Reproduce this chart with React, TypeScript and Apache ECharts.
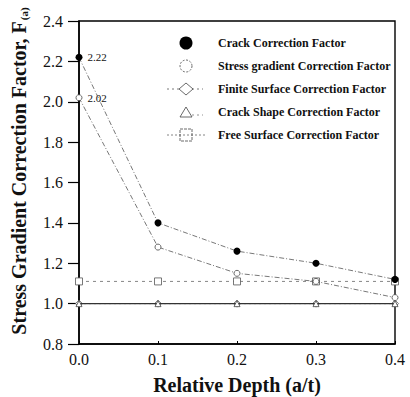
import React, { useEffect, useRef } from "react";
import * as echarts from "echarts";

const depths = [0.0, 0.1, 0.2, 0.3, 0.4];
const crackFactor = [2.22, 1.4, 1.26, 1.2, 1.12];
const stressGradientFactor = [2.02, 1.28, 1.15, 1.11, 1.03];
const finiteSurfaceFactor = [1.0, 1.0, 1.0, 1.0, 1.0];
const crackShapeFactor = [1.0, 1.0, 1.0, 1.0, 1.0];
const freeSurfaceFactor = [1.11, 1.11, 1.11, 1.11, 1.11];

const legendNames = [
  "Crack Correction Factor",
  "Stress gradient Correction Factor",
  "Finite Surface Correction Factor",
  "Crack Shape Correction Factor",
  "Free Surface Correction Factor",
];

const SERIF = "'Liberation Serif', 'Times New Roman', serif";

function pairs(values: number[], labelFirst = false) {
  return values.map((v, i) => {
    const item: any = { value: [depths[i], v] };
    if (labelFirst && i === 0) {
      item.label = {
        show: true,
        position: "right",
        distance: 5,
        formatter: () => v.toFixed(2),
        fontFamily: SERIF,
        fontSize: 11,
        color: "#111",
      };
    }
    return item;
  });
}

export default function App() {
  const ref = useRef<HTMLDivElement>(null);

  useEffect(() => {
    document.body.style.margin = "0";
    if (!ref.current) return;
    const chart = echarts.init(ref.current, undefined, { renderer: "svg" });

    const lx = 186;
    const rowY = [43, 66, 89, 112, 135];
    const tx = 218;

    const legendGraphics: any[] = [
      { type: "circle", shape: { cx: lx, cy: rowY[0], r: 6.5 }, style: { fill: "#000" } },
      {
        type: "circle",
        shape: { cx: lx, cy: rowY[1], r: 6 },
        style: { fill: "none", stroke: "#444", lineWidth: 0.8, lineDash: [2, 1.5] },
      },
      {
        type: "line",
        shape: { x1: 167, y1: rowY[2], x2: 203, y2: rowY[2] },
        style: { stroke: "#555", lineWidth: 0.8, lineDash: [2, 3] },
      },
      {
        type: "polygon",
        shape: { points: [[lx - 7, rowY[2]], [lx, rowY[2] - 6], [lx + 7, rowY[2]], [lx, rowY[2] + 6]] },
        style: { fill: "#fff", stroke: "#444", lineWidth: 0.8 },
      },
      {
        type: "line",
        shape: { x1: lx + 6, y1: rowY[3] + 3, x2: 203, y2: rowY[3] + 3 },
        style: { stroke: "#777", lineWidth: 0.8, lineDash: [2, 3] },
      },
      {
        type: "polygon",
        shape: { points: [[lx - 6, rowY[3] + 5], [lx, rowY[3] - 5], [lx + 6, rowY[3] + 5]] },
        style: { fill: "none", stroke: "#444", lineWidth: 0.8 },
      },
      {
        type: "line",
        shape: { x1: 167, y1: rowY[4], x2: 205, y2: rowY[4] },
        style: { stroke: "#666", lineWidth: 0.8, lineDash: [2, 2] },
      },
      {
        type: "rect",
        shape: { x: lx - 6, y: rowY[4] - 6, width: 12, height: 12 },
        style: { fill: "none", stroke: "#444", lineWidth: 0.8, lineDash: [3, 1] },
      },
      ...legendNames.map((name, i) => ({
        type: "text",
        x: tx,
        y: rowY[i],
        style: {
          text: name,
          fontFamily: SERIF,
          fontSize: 12,
          fontWeight: "bold",
          fill: "#111",
          verticalAlign: "middle",
          align: "left",
        },
      })),
      {
        type: "text",
        x: 19,
        y: 171,
        rotation: Math.PI / 2,
        style: {
          text: "{b|Stress Gradient Correction Factor, F}{s|(a)}",
          align: "center",
          verticalAlign: "middle",
          rich: {
            b: { fontFamily: SERIF, fontSize: 20, fontWeight: "bold", fill: "#111" },
            s: {
              fontFamily: SERIF,
              fontSize: 11,
              fontWeight: "bold",
              fill: "#111",
              verticalAlign: "bottom",
              padding: [8, 0, 0, 1],
            },
          },
        },
      },
    ];

    const option: any = {
      animation: false,
      backgroundColor: "#fff",
      grid: {
        left: 79,
        right: 15,
        top: 21,
        bottom: 53,
        outerBoundsMode: "none",
        containLabel: false,
        show: true,
        borderColor: "#000",
        borderWidth: 1.4,
        backgroundColor: "transparent",
      },
      xAxis: {
        type: "value",
        min: 0,
        max: 0.4,
        interval: 0.1,
        name: "Relative Depth (a/t)",
        nameLocation: "middle",
        nameGap: 31,
        nameTextStyle: { fontFamily: SERIF, fontSize: 20, fontWeight: "bold", color: "#111" },
        axisLine: { lineStyle: { color: "#000", width: 1.5 } },
        axisTick: { inside: true, length: 3, lineStyle: { color: "#000" } },
        axisLabel: {
          margin: 7,
          fontFamily: SERIF,
          fontSize: 16,
          color: "#111",
          formatter: (v: number) => v.toFixed(1),
        },
        splitLine: { show: false },
      },
      yAxis: {
        type: "value",
        min: 0.8,
        max: 2.4,
        interval: 0.2,
        axisLine: { show: true, lineStyle: { color: "#000", width: 1.5 } },
        axisTick: { show: true, inside: false, length: 11, lineStyle: { color: "#000", width: 1.2 } },
        axisLabel: {
          margin: 16,
          fontFamily: SERIF,
          fontSize: 16,
          color: "#111",
          formatter: (v: number) => v.toFixed(1),
        },
        splitLine: { show: false },
      },
      series: [
        {
          name: legendNames[4],
          type: "line",
          data: pairs(freeSurfaceFactor),
          symbol: "rect",
          symbolSize: 7,
          itemStyle: { color: "#fff", borderColor: "#555", borderWidth: 0.8 },
          lineStyle: { color: "#777", width: 0.9, type: [3, 4] },
          z: 2,
        },
        {
          name: legendNames[2],
          type: "line",
          data: pairs(finiteSurfaceFactor),
          symbol: "diamond",
          symbolSize: 7,
          itemStyle: { color: "#fff", borderColor: "#555", borderWidth: 0.8 },
          lineStyle: { color: "#777", width: 0.9, type: [2, 3] },
          z: 2,
        },
        {
          name: legendNames[3],
          type: "line",
          data: pairs(crackShapeFactor),
          symbol: "triangle",
          symbolSize: 6,
          itemStyle: { color: "#fff", borderColor: "#444", borderWidth: 0.8 },
          lineStyle: { color: "#333", width: 1.1 },
          z: 3,
        },
        {
          name: legendNames[1],
          type: "line",
          data: pairs(stressGradientFactor, true),
          symbol: "circle",
          symbolSize: 6,
          itemStyle: { color: "#fff", borderColor: "#444", borderWidth: 0.8 },
          lineStyle: { color: "#555", width: 0.8, type: [5, 2, 1, 2] },
          z: 4,
        },
        {
          name: legendNames[0],
          type: "line",
          data: pairs(crackFactor, true),
          symbol: "circle",
          symbolSize: 7,
          itemStyle: { color: "#000" },
          lineStyle: { color: "#555", width: 0.8, type: [5, 2, 1, 2] },
          z: 5,
        },
      ],
      graphic: legendGraphics,
    };

    chart.setOption(option);
    return () => chart.dispose();
  }, []);

  return <div ref={ref} style={{ width: 410, height: 397 }} />;
}
